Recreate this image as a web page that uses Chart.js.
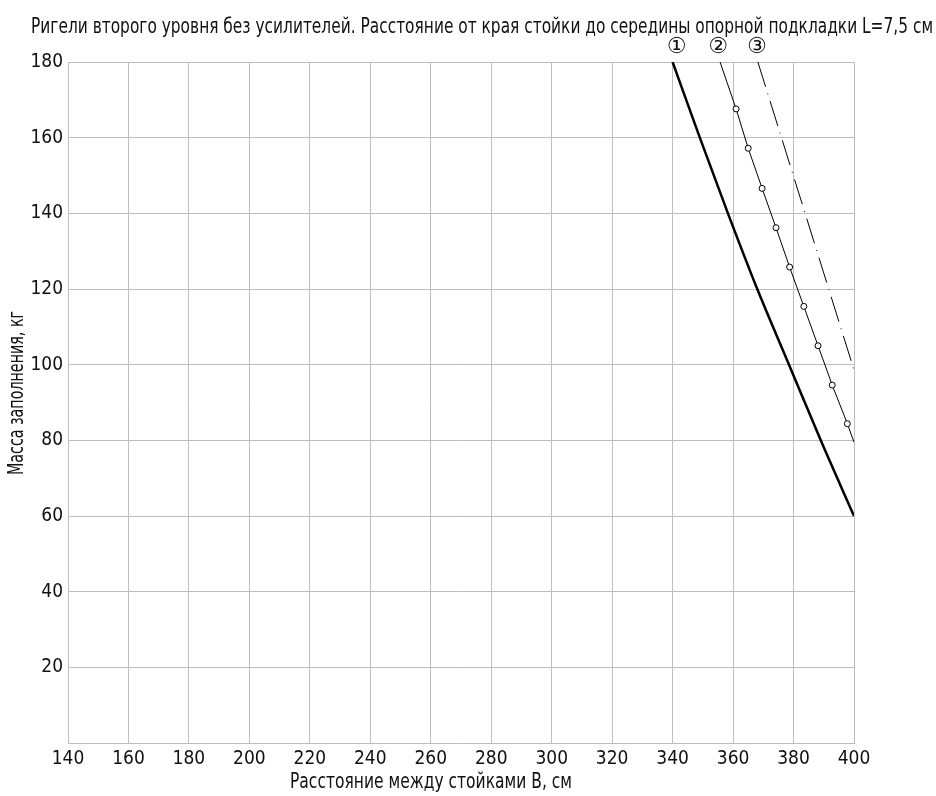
<!DOCTYPE html>
<html lang="ru">
<head>
    <meta charset="UTF-8">
    <title>Ригели второго уровня без усилителей</title>
    <script src="https://cdn.jsdelivr.net/npm/chart.js"></script>
    <style>
        body {
            margin: 0;
            background-color: #ffffff;
        }
        #wrap {
            width: 936px;
            height: 796px;
        }
    </style>
</head>
<body>
    <div id="wrap">
        <canvas id="loadChart" width="936" height="796"></canvas>
    </div>

    <script>
        // Curve data (x = span B, cm; y = mass, kg)
        const curve1X = [340, 349, 358.3, 368, 378.5, 389, 400];
        const curve1Y = [180, 160, 140, 120, 100, 80, 60];

        const curve2X = [355.7, 361, 365, 369.6, 374.2, 378.7, 383.4, 388.1, 392.8, 397.8, 400];
        const curve2Y = [180, 167.6, 157.2, 146.6, 136.2, 125.8, 115.4, 105, 94.6, 84.4, 79.5];

        const curve3X = [368.2, 400];
        const curve3Y = [180, 98.6];

        const curveLabels = ['①', '②', '③'];
        const xTicks = [140, 160, 180, 200, 220, 240, 260, 280, 300, 320, 340, 360, 380, 400];
        const yTicks = [20, 40, 60, 80, 100, 120, 140, 160, 180];

        const chartTitle = 'Ригели второго уровня без усилителей. Расстояние от края стойки до середины опорной подкладки L=7,5 см';
        const xTitle = 'Расстояние между стойками В, см';
        const yTitle = 'Масса заполнения, кг';

        const FONT = '"DejaVu Sans Condensed", "DejaVu Sans", sans-serif';

        function toPoints(xs, ys) {
            return xs.map((x, i) => ({ x: x, y: ys[i] }));
        }

        // titles (squeezed to the narrow drawing font width) and circled curve numbers
        const annotations = {
            id: 'annotations',
            afterDraw(chart) {
                const c = chart.ctx;
                const xs = chart.scales.x;
                const area = chart.chartArea;
                c.save();
                c.fillStyle = '#111';
                c.textAlign = 'center';
                c.textBaseline = 'middle';

                c.font = '22px ' + FONT;
                c.fillText(chartTitle, 482, 27, 902);
                c.fillText(xTitle, 431, 782, 282);

                c.save();
                c.translate(17, 393);
                c.rotate(-Math.PI / 2);
                c.fillText(yTitle, 0, 0, 164);
                c.restore();

                c.font = '22px "DejaVu Sans", sans-serif';
                const starts = [curve1X[0], curve2X[0], curve3X[0]];
                const nudge = [4, -2, -1];
                starts.forEach((v, i) => {
                    c.fillText(curveLabels[i], xs.getPixelForValue(v) + nudge[i], area.top - 15);
                });
                c.restore();
            }
        };

        const ctx = document.getElementById('loadChart').getContext('2d');
        const loadChart = new Chart(ctx, {
            type: 'scatter',
            data: {
                datasets: [
                    {
                        data: toPoints(curve1X, curve1Y),
                        showLine: true,
                        borderColor: '#000',
                        borderWidth: 2.5,
                        pointRadius: 0,
                        cubicInterpolationMode: 'monotone'
                    },
                    {
                        data: toPoints(curve2X, curve2Y),
                        showLine: true,
                        borderColor: '#000',
                        borderWidth: 1,
                        pointRadius: curve2X.map((v, i) => (i === 0 || i === curve2X.length - 1) ? 0 : 3),
                        pointBackgroundColor: '#fff',
                        pointBorderColor: '#000',
                        pointBorderWidth: 1
                    },
                    {
                        data: toPoints(curve3X, curve3Y),
                        showLine: true,
                        borderColor: '#000',
                        borderWidth: 1,
                        borderDash: [26, 7, 1, 7],
                        pointRadius: 0
                    }
                ]
            },
            options: {
                responsive: false,
                animation: false,
                layout: {
                    padding: { top: 62, right: 82, left: 0, bottom: 0 }
                },
                plugins: {
                    legend: { display: false },
                    tooltip: { enabled: false }
                },
                scales: {
                    x: {
                        type: 'linear',
                        min: 140,
                        max: 400,
                        afterBuildTicks: axis => { axis.ticks = xTicks.map(v => ({ value: v })); },
                        afterFit: axis => { axis.height = 53; },
                        grid: { color: '#bdbdbd', lineWidth: 1, drawTicks: false },
                        border: { color: '#bdbdbd' },
                        ticks: {
                            color: '#111',
                            font: { family: FONT, size: 19 },
                            padding: 5,
                            maxRotation: 0
                        }
                    },
                    y: {
                        type: 'linear',
                        min: 0,
                        max: 180,
                        afterBuildTicks: axis => { axis.ticks = yTicks.map(v => ({ value: v })); },
                        afterFit: axis => { axis.width = 68; },
                        grid: { color: '#bdbdbd', lineWidth: 1, drawTicks: false },
                        border: { color: '#bdbdbd' },
                        ticks: {
                            color: '#111',
                            font: { family: FONT, size: 19 },
                            padding: 5
                        }
                    }
                }
            },
            plugins: [annotations]
        });
    </script>
</body>
</html>
